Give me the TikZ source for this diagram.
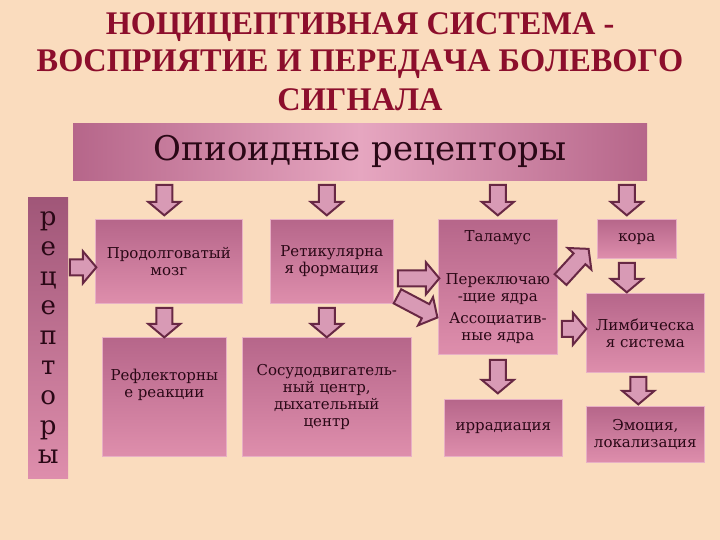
\documentclass[tikz,border=0pt]{standalone}
\usepackage{fontspec}
\setmainfont{DejaVu Serif}
\newfontfamily\titlefont[FakeStretch=0.98, Kerning=Off]{Liberation Serif Bold}
\usetikzlibrary{calc,shapes.arrows}

\definecolor{peach}{RGB}{250,220,190}
\definecolor{titlered}{RGB}{140,14,44}
\definecolor{boxdark}{RGB}{182,102,138}
\definecolor{boxlight}{RGB}{222,142,172}
\definecolor{bannermid}{RGB}{230,166,192}
\definecolor{bardark}{RGB}{160,86,120}
\definecolor{inkdark}{RGB}{42,8,22}
\definecolor{arrowfill}{RGB}{216,154,181}
\definecolor{arrowline}{RGB}{104,40,68}

\tikzset{
	box/.style={rectangle, anchor=north west, inner sep=2pt, align=center, text=inkdark,
		font=\fontsize{15}{17}\selectfont, top color=boxdark, bottom color=boxlight,
		draw=boxlight!70!white, line width=0.6pt},
	blockarrow/.style={single arrow, draw=arrowline, fill=arrowfill, line width=2pt,
		inner xsep=0pt, inner ysep=7pt, single arrow head extend=8pt,
		single arrow head indent=0pt, single arrow tip angle=100},
	titleline/.style={anchor=base, text=titlered, font=\titlefont\fontsize{33}{38}\selectfont}
}

% block arrow from (#1) to (#2), gaps #3 and #4 at the ends
\def\bigarrow(#1)(#2)(#3:#4){\path let \p1=($(#1)!#3!(#2)$), \p2=($(#2)!#4!(#1)$), \p3=($(\p2)-(\p1)$),
	\n1={veclen(\x3,\y3)}, \n2={atan2(\y3,\x3)} in
	node[blockarrow, minimum height=\n1, rotate=\n2] at ($(\p1)!0.5!(\p2)$) {};}

\begin{document}
\begin{tikzpicture}[x=1pt, y=-1pt]
		%%%%% START %%%%%
		
		\fill[peach] (0, 0) rectangle (720, 540);
		
		\node[titleline] (title1) at (360, 35) {НОЦИЦЕПТИВНАЯ СИСТЕМА -};
		\node[titleline] (title2) at (360, 72) {ВОСПРИЯТИЕ И ПЕРЕДАЧА БОЛЕВОГО};
		\node[titleline] (title3) at (360, 111) {СИГНАЛА};
		
		\node[rectangle, anchor=north west, minimum width=574, minimum height=57, left color=boxdark,
			right color=boxdark, middle color=bannermid, text=inkdark,
			font=\fontsize{34}{38}\selectfont] (banner) at (73, 123) {Опиоидные рецепторы};
		
		\node[rectangle, anchor=north west, minimum width=40, minimum height=281, inner sep=0pt,
			top color=bardark, bottom color=boxlight, align=center, text=inkdark,
			font=\fontsize{26}{29.8}\selectfont] (bar) at (28, 197) {р\\е\\ц\\е\\п\\т\\о\\р\\ы};
		
		\node[box, minimum width=147, minimum height=84] (med) at (95, 219) {Продолговатый\\мозг};
		\node[box, minimum width=124, minimum height=119] (refl) at (102, 337) {Рефлекторны\\е реакции\\[10pt]};
		\node[box, minimum width=123, minimum height=84] (ret) at (270, 219) {Ретикулярна\\я формация};
		\node[box, minimum width=169, minimum height=119] (vaso) at (242, 337) {Сосудодвигатель-\\ный центр,\\дыхательный\\центр};
		\node[box, minimum width=119, minimum height=135] (thal) at (438, 219) {Таламус\\[26pt]Переключаю\\-щие ядра\\[5pt]Ассоциатив-\\ные ядра};
		\node[box, minimum width=118, minimum height=57] (irr) at (444, 399) {иррадиация};
		\node[box, minimum width=79, minimum height=39] (kora) at (597, 219) {кора};
		\node[box, minimum width=118, minimum height=79] (limb) at (586, 293) {Лимбическа\\я система};
		\node[box, minimum width=118, minimum height=56] (emo) at (586, 406) {Эмоция,\\локализация};
		
		\coordinate (kcol) at ($(kora.north)+(-10, 0)$);
		\coordinate (lcol) at ($(limb.south)+(-7, 0)$);
		\coordinate (bm) at ($(med.west)+(0, 6)$);
		\coordinate (rt1) at ($(ret.east)+(0, 17)$);
		\coordinate (rt2) at ($(ret.east)+(0, 33)$);
		\coordinate (rt3) at ($(thal.west)+(0, 31)$);
		\coordinate (tk1) at ($(thal.east)+(0, -4)$);
		\coordinate (tk2) at ($(kora.south west)+(-10, -8)$);
		\coordinate (tl1) at ($(thal.east)+(0, 42)$);
		
		% from the banner down
		\bigarrow(banner.south -| refl.north)(med.north -| refl.north)(1pt:7pt)
		\bigarrow(banner.south -| vaso.north)(ret.north -| vaso.north)(1pt:7pt)
		\bigarrow(banner.south -| thal.north)(thal.north)(1pt:7pt)
		\bigarrow(banner.south -| kcol)(kcol)(1pt:7pt)
		
		\bigarrow(bar.east |- bm)(bm)(-2pt:2pt)
		\bigarrow(med.south -| refl.north)(refl.north)(1pt:3pt)
		\bigarrow(ret.south -| vaso.north)(vaso.north)(1pt:3pt)
		\bigarrow(rt1)(rt1 -| thal.west)(1pt:2pt)
		\bigarrow(rt2)(rt3)(1pt:4pt)
		\bigarrow(tk1)(tk2)(1pt:1pt)
		\bigarrow(tl1)(tl1 -| limb.west)(1pt:3pt)
		\bigarrow(thal.south)(irr.north -| thal.south)(2pt:9pt)
		\bigarrow(kora.south -| kcol)(limb.north -| kcol)(1pt:4pt)
		\bigarrow(lcol)(emo.north -| lcol)(1pt:5pt)
		
		%%%%% END %%%%%
	\end{tikzpicture}
\end{document}
